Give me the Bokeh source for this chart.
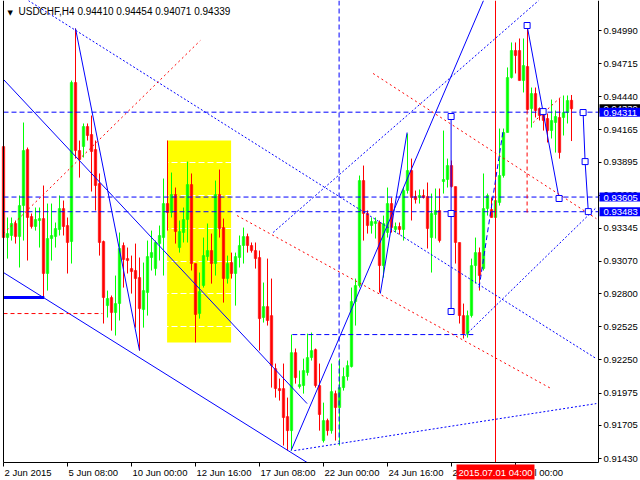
from bokeh.plotting import figure
from bokeh.models import Range1d, FixedTicker, PrintfTickFormatter, Label, LinearAxis
from bokeh.embed import file_html
from bokeh.resources import INLINE

symbol = "USDCHF,H4"

opens = [0.94025,0.93268,0.93285,0.93385,0.93276,0.93534,0.94000,0.93443,0.93360,0.93410,
         0.93426,0.92969,0.93260,0.93276,0.93335,0.93509,0.93368,0.93235,0.94558,0.93992,
         0.94025,0.94192,0.94125,0.94000,0.93717,0.93235,0.92702,0.92769,0.92644,0.92719,
         0.93202,0.93093,0.93010,0.92994,0.92935,0.92669,0.92811,0.93102,0.93010,0.93218,
         0.93268,0.93551,0.93476,0.93626,0.93185,0.93310,0.93418,0.93709,0.93052,0.92636,
         0.92869,0.93110,0.93160,0.93052,0.93626,0.93351,0.92927,0.93060,0.92969,0.93102,
         0.93202,0.93276,0.93202,0.93160,0.93102,0.92603,0.92694,0.92619,0.92178,0.92012,
         0.92012,0.91779,0.91662,0.92311,0.92028,0.92037,0.92145,0.92270,0.92336,0.92037,
         0.91579,0.91746,0.91662,0.91970,0.91854,0.92020,0.92112,0.92195,0.92736,0.92869,
         0.93742,0.93468,0.93368,0.93385,0.93393,0.93035,0.93310,0.93551,0.93335,0.93360,
         0.93335,0.93659,0.93826,0.93609,0.93601,0.93618,0.93609,0.93268,0.93460,0.93493,
         0.93734,0.93751,0.93867,0.93692,0.93227,0.92619,0.92469,0.92619,0.93035,0.93143,
         0.93010,0.93509,0.93501,0.93435,0.93559,0.93784,0.94142,0.94599,0.94824,0.94824,
         0.94574,0.94691,0.94341,0.94466,0.94341,0.94300,0.94258,0.94158,0.94225,0.94267,
         0.94267,0.94308,0.94410]
highs = [0.94034,0.93435,0.93435,0.93410,0.93618,0.94225,0.94017,0.93468,0.93518,0.93518,
         0.93701,0.93551,0.93551,0.93393,0.93618,0.93576,0.93435,0.94574,0.95007,0.94075,
         0.94217,0.94217,0.94283,0.94075,0.93801,0.93243,0.92827,0.92786,0.92952,0.93310,
         0.93227,0.93185,0.93118,0.93218,0.93102,0.93060,0.93243,0.93326,0.93243,0.93368,
         0.93759,0.94075,0.93809,0.93684,0.93410,0.93518,0.93900,0.93801,0.93052,0.92977,
         0.93268,0.93385,0.93301,0.93742,0.93834,0.93426,0.93118,0.93143,0.93143,0.93285,
         0.93351,0.93301,0.93227,0.93227,0.93160,0.92894,0.93093,0.92927,0.92220,0.92095,
         0.92220,0.91937,0.92461,0.92345,0.92162,0.92261,0.92469,0.92478,0.92345,0.92220,
         0.91895,0.91762,0.92220,0.91995,0.92261,0.92187,0.92245,0.92852,0.92927,0.93784,
         0.93867,0.93493,0.93435,0.93435,0.93410,0.93451,0.93684,0.93601,0.93393,0.93393,
         0.93684,0.94133,0.93925,0.93659,0.93668,0.93668,0.93726,0.93634,0.93676,0.93676,
         0.94158,0.93925,0.93909,0.93692,0.93227,0.92719,0.92661,0.93093,0.93268,0.93185,
         0.93801,0.93634,0.93601,0.93659,0.94175,0.94175,0.94683,0.94891,0.94891,0.94924,
         0.94924,0.95032,0.94516,0.94516,0.94350,0.94325,0.94300,0.94416,0.94325,0.94425,
         0.94450,0.94450,0.94454]
lows = [0.93077,0.93093,0.93243,0.93218,0.93019,0.93243,0.93077,0.93343,0.93326,0.93185,
        0.92761,0.92827,0.93077,0.93185,0.93285,0.93285,0.92969,0.93052,0.93925,0.93767,
        0.93934,0.94075,0.93651,0.93493,0.93118,0.92553,0.92603,0.92494,0.92453,0.92578,
        0.92852,0.92969,0.92802,0.92519,0.92328,0.92519,0.92619,0.92994,0.92952,0.93077,
        0.92952,0.93326,0.93435,0.93218,0.93143,0.93227,0.93227,0.92994,0.92395,0.92594,
        0.92852,0.93077,0.92885,0.92952,0.93268,0.92727,0.92885,0.92927,0.92702,0.93019,
        0.93052,0.93143,0.93143,0.93010,0.92328,0.92561,0.92536,0.92020,0.91937,0.91912,
        0.91538,0.91496,0.91496,0.92053,0.92012,0.91970,0.92120,0.92245,0.92020,0.91662,
        0.91563,0.91621,0.91637,0.91579,0.91538,0.91995,0.92078,0.92187,0.92536,0.92852,
        0.93243,0.93301,0.93301,0.93260,0.92811,0.92935,0.93268,0.93310,0.93310,0.93293,
        0.93243,0.93634,0.93410,0.93551,0.93551,0.93593,0.93177,0.92977,0.93260,0.93227,
        0.93634,0.93684,0.93684,0.93052,0.92553,0.92428,0.92436,0.92603,0.92885,0.92827,
        0.92994,0.93451,0.93435,0.93426,0.93534,0.93767,0.94142,0.94591,0.94633,0.94574,
        0.94475,0.94325,0.94183,0.94267,0.94242,0.94158,0.94059,0.94092,0.93975,0.93925,
        0.94117,0.94217,0.94071]
closes = [0.93268,0.93301,0.93385,0.93276,0.93534,0.93992,0.93435,0.93360,0.93418,0.93426,
          0.92969,0.93260,0.93285,0.93343,0.93509,0.93360,0.93227,0.94558,0.93992,0.93917,
          0.94192,0.94117,0.93984,0.93701,0.93227,0.92769,0.92761,0.92644,0.92719,0.93177,
          0.93085,0.93077,0.92985,0.92927,0.92677,0.92827,0.93110,0.93143,0.93227,0.93285,
          0.93551,0.93476,0.93626,0.93318,0.93318,0.93418,0.93709,0.93052,0.92628,0.92819,
          0.93118,0.93160,0.93052,0.93626,0.93343,0.92927,0.93052,0.92969,0.93110,0.93202,
          0.93276,0.93202,0.93160,0.93093,0.92594,0.92694,0.92578,0.92203,0.92012,0.91995,
          0.91771,0.91662,0.92311,0.92103,0.92045,0.92162,0.92270,0.92328,0.92037,0.91796,
          0.91746,0.91662,0.91987,0.91854,0.92020,0.92112,0.92203,0.92736,0.92869,0.93742,
          0.93468,0.93368,0.93401,0.93401,0.93035,0.93385,0.93551,0.93351,0.93360,0.93335,
          0.93659,0.93826,0.93601,0.93584,0.93618,0.93601,0.93343,0.93468,0.93493,0.93243,
          0.93751,0.93867,0.93692,0.93227,0.92619,0.92469,0.92619,0.93035,0.93143,0.92952,
          0.93509,0.93618,0.93435,0.93576,0.93784,0.94142,0.94599,0.94824,0.94782,0.94574,
          0.94699,0.94333,0.94466,0.94325,0.94283,0.94242,0.94158,0.94242,0.94275,0.93975,
          0.94308,0.94408,0.94339]

x_tick_bars = [0, 16, 32, 48, 64, 80, 96, 112, 128]
x_tick_labels = ["2 Jun 2015", "5 Jun 08:00", "10 Jun 00:00", "12 Jun 16:00", "17 Jun 08:00",
                 "22 Jun 00:00", "24 Jun 16:00", "29 Jun 08:00", "2 Jul 00:00"]
y_ticks = [0.91430, 0.91705, 0.91975, 0.92250, 0.92525, 0.92800, 0.93070, 0.93345,
           0.93620, 0.93895, 0.94165, 0.94440, 0.94715, 0.94990]
price_bottom, price_top = 0.91397, 0.95240
bar_left, bar_right = 0, 148.75

levels = [0.94311, 0.93605, 0.93483]
cursor_bar = 123
cursor_label = "2015.07.01 04:00"
zone = (40.9, 56.9, 0.94075, 0.92395)  # left bar, right bar, top, bottom

# overlay objects: (bar0, price0, bar1, price1)
blue_solid = [(0, 0.94583, 75.9, 0.91887), (0, 0.92977, 75.9, 0.91397),
              (18, 0.95007, 34, 0.92328), (71.9, 0.91496, 120.0, 0.95240),
              (94.2, 0.92802, 100.9, 0.94142), (130.9, 0.95032, 138.9, 0.93593),
              (111.9, 0.94275, 111.9, 0.92653), (144.9, 0.94308, 145.4, 0.93900),
              (145.4, 0.93900, 146.2, 0.93484)]
blue_thick = [(0, 0.92769, 10.2, 0.92769)]
blue_dashed = [(72.2, 0.92461, 117.9, 0.92461), (83.9, 0.95240, 83.9, 0.91563),
               (118.9, 0.92852, 124.9, 0.94158)]
blue_dotted = [(6.2, 0.95240, 148.2, 0.92261), (67.4, 0.93310, 133.8, 0.95240),
               (115.4, 0.92453, 148.2, 0.93518), (72.7, 0.91496, 148.2, 0.91887)]
red_dashed = [(0, 0.92636, 24.7, 0.92636), (130.9, 0.94325, 130.9, 0.93468)]
red_dotted = [(0, 0.93301, 49.2, 0.94907), (92.4, 0.94633, 148.2, 0.93426),
              (58.4, 0.93451, 136.9, 0.92012), (132.4, 0.94225, 139.2, 0.94433)]
anchor_bars = [130.9, 134.9, 138.9, 111.9, 111.9, 111.9, 144.9, 145.4, 146.2]
anchor_prices = [0.95032, 0.94316, 0.93593, 0.94275, 0.93468, 0.92653, 0.94308, 0.93900, 0.93484]

FONT = "Liberation Sans"
FS = "9.5px"

# ---- layout: the frame fills the figure; the chart box sits inside it, axes are pinned to its edges
W, H = 640, 480
CH_L, CH_R, CH_T, CH_B = 3, 598, 0, 462          # chart box in figure pixels
ppb = (CH_R - CH_L) / (bar_right - bar_left)
ppu = (CH_B - CH_T) / (price_top - price_bottom)
x_range = Range1d(bar_left - CH_L / ppb, bar_right + (W - CH_R) / ppb)
y_range = Range1d(price_bottom - (H - CH_B) / ppu, price_top + CH_T / ppu)

p = figure(width=W, height=H, x_range=x_range, y_range=y_range,
           output_backend="svg", toolbar_location=None, x_axis_location="below",
           y_axis_location="right", min_border_left=0, min_border_top=0,
           min_border_right=0, min_border_bottom=0,
           background_fill_color="white", border_fill_color="white")
p.outline_line_color = None

# grid (white dashed, visible only on the yellow zone)
p.xgrid.visible = False
p.ygrid.ticker = FixedTicker(ticks=y_ticks)
p.ygrid.grid_line_color = "white"
p.ygrid.grid_line_dash = "6 3"
p.ygrid.grid_line_width = 1
p.ygrid.bounds = (bar_left, bar_right)

# axes pinned to the chart box
xa = p.xaxis[0]
xa.fixed_location = price_bottom
xa.bounds = (bar_left, bar_right)
xa.ticker = FixedTicker(ticks=x_tick_bars)
xa.major_label_overrides = {b: "" for b in x_tick_bars}
xa.major_tick_out = 4
xa.major_tick_in = 0
xa.minor_tick_out = 0
xa.minor_tick_in = 0
ya = p.yaxis[0]
ya.fixed_location = bar_right
ya.bounds = (price_bottom, price_top)
ya.ticker = FixedTicker(ticks=y_ticks)
ya.formatter = PrintfTickFormatter(format="%.5f")
ya.major_tick_out = 3
ya.major_tick_in = 0
ya.minor_tick_out = 0
ya.minor_tick_in = 0
ya.major_label_standoff = 2
for ax in (xa, ya):
    ax.axis_line_color = "black"
    ax.major_tick_line_color = "black"
    ax.major_label_text_font = FONT
    ax.major_label_text_font_size = FS
    ax.major_label_text_color = "black"

# left edge of the chart box
left_edge = LinearAxis(fixed_location=bar_left, bounds=(price_bottom, price_top),
                       ticker=FixedTicker(ticks=[]), major_tick_out=0, minor_tick_out=0,
                       axis_line_color="black")
p.add_layout(left_edge, "left")

# MT4-style left-aligned time labels
for b, t in zip(x_tick_bars, x_tick_labels):
    p.add_layout(Label(x=b, y=price_bottom, x_offset=1, y_offset=-4, text=t, text_font=FONT,
                       text_font_size=FS, text_color="black", text_baseline="top",
                       text_align="left"))

# yellow zone
p.quad(left=[zone[0]], right=[zone[1]], top=[zone[2]], bottom=[zone[3]],
       fill_color="#FFFF00", line_color=None, level="image")

# candles
idx = list(range(len(opens)))
cols = ["#00FF00" if c >= o else "#FF0000" for o, c in zip(opens, closes)]
p.segment(x0=idx, y0=highs, x1=idx, y1=lows, line_color=cols, line_width=1)
tops = [max(o, c) for o, c in zip(opens, closes)]
bots = [min(o, c) for o, c in zip(opens, closes)]
p.vbar(x=idx, width=0.62, top=tops, bottom=bots, fill_color=cols, line_color=cols, line_width=0.5)

def draw(lines, color, width=1, dash="solid"):
    p.segment(x0=[l[0] for l in lines], y0=[l[1] for l in lines],
              x1=[l[2] for l in lines], y1=[l[3] for l in lines],
              line_color=color, line_width=width, line_dash=dash)

# horizontal levels and the time cursor, across the chart box
p.segment(x0=[bar_left] * len(levels), y0=levels, x1=[bar_right] * len(levels), y1=levels,
          line_color="blue", line_dash="5 3", line_width=1)
p.segment(x0=[cursor_bar], y0=[price_bottom], x1=[cursor_bar], y1=[price_top],
          line_color="red", line_width=1)

draw(blue_solid, "blue", 1)
draw(blue_thick, "blue", 3)
draw(blue_dashed, "blue", 1, "5 3")
draw(blue_dotted, "blue", 1, "2 2")
draw(red_dashed, "red", 1, "4 3")
draw(red_dotted, "red", 1, "2 3")
p.scatter(anchor_bars, anchor_prices, marker="square", size=6, fill_color="white",
          line_color="blue", line_width=1)

# title
p.add_layout(Label(x=bar_left, y=price_top, x_offset=4, y_offset=-8, text="\u25BC",
                   text_font="DejaVu Sans", text_font_size="7px", text_baseline="top",
                   text_color="black"))
title = f"{symbol}  {opens[-1]:.5f} {highs[-1]:.5f} {lows[-1]:.5f} {closes[-1]:.5f}"
p.add_layout(Label(x=bar_left, y=price_top, x_offset=15, y_offset=-5, text=title,
                   text_font=FONT, text_font_size="10px", text_baseline="top", text_color="black"))

# price tags on the price scale
tag_pad = dict(left=4, right=4, top=2, bottom=1)
cur = Label(x=bar_right, y=closes[-1], x_offset=1, text=f"{closes[-1]:.5f}", text_font=FONT,
            text_font_size=FS, text_color="white", text_baseline="middle", text_align="left",
            background_fill_color="black", padding=tag_pad)
cur.level = "overlay"
p.add_layout(cur)
for lv in levels:
    lb = Label(x=bar_right, y=lv, x_offset=1, text=f"{lv:.5f}", text_font=FONT,
               text_font_size=FS, text_color="white", text_baseline="middle", text_align="left",
               background_fill_color="blue", padding=tag_pad)
    lb.level = "overlay"
    p.add_layout(lb)

cl = Label(x=cursor_bar, y=price_bottom, y_offset=-2, text=cursor_label, text_font=FONT,
           text_font_size=FS, text_color="white", text_baseline="top", text_align="center",
           background_fill_color="red", padding=dict(left=2, right=2, top=2, bottom=2))
cl.level = "overlay"
p.add_layout(cl)

open("out.html", "w").write(file_html(p, INLINE))
